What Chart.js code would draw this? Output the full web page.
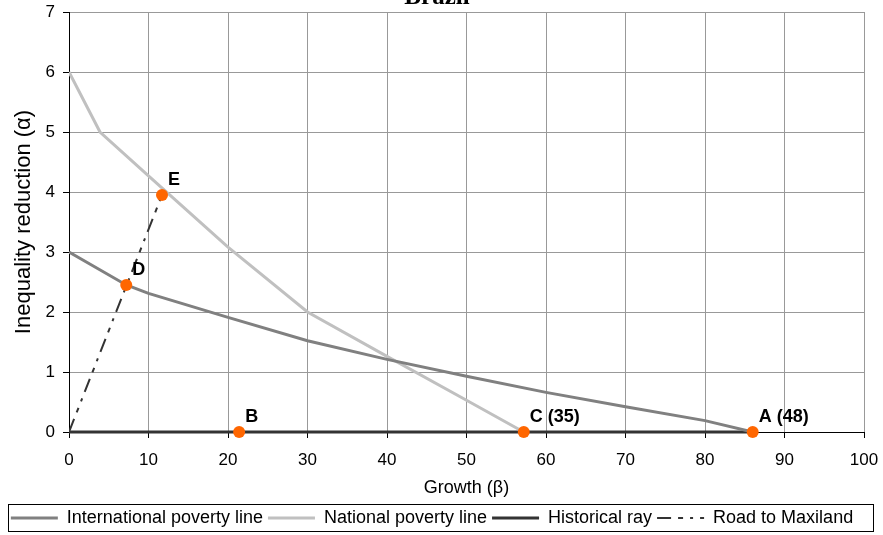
<!DOCTYPE html>
<html>
<head>
<meta charset="utf-8">
<script src="https://cdn.jsdelivr.net/npm/chart.js@4.4.1/dist/chart.umd.min.js"></script>
<style>
  html, body { margin: 0; padding: 0; background: #fff; }
  #wrap { width: 883px; height: 535px; }
</style>
</head>
<body>
<div id="wrap"><canvas id="chart0" width="883" height="535"></canvas></div>
<script>
// growth (beta) / inequality reduction (alpha) curves
const intlX = [0, 7.2, 10, 20, 30, 40, 50, 60, 70, 80, 86];
const intlY = [3, 2.45, 2.31, 1.91, 1.52, 1.21, 0.93, 0.66, 0.42, 0.19, 0];
const natX = [0, 3.9, 10, 20, 30, 40, 50, 57.2];
const natY = [6, 5, 4.27, 3.08, 2.0, 1.26, 0.53, 0];
const histX = [0, 86];
const histY = [0, 0];
const roadX = [0, 11.7];
const roadY = [0, 3.95];
const pointLabels = ['A (48)', 'B', 'C (35)', 'D', 'E'];
const pointX = [86, 21.4, 57.2, 7.2, 11.7];
const pointY = [0, 0, 0, 2.45, 3.95];

const FONT = "'Liberation Sans', Arial, sans-serif";

function xy(xs, ys) {
    return xs.map(function (x, i) { return {x: x, y: ys[i]}; });
}

const extras = {
    id: 'extras',
    afterDatasetsDraw(chart) {
        var ctx = chart.ctx;
        var meta = chart.getDatasetMeta(4);
        ctx.save();
        ctx.fillStyle = '#000';
        ctx.font = 'bold 18px ' + FONT;
        ctx.textAlign = 'left';
        ctx.textBaseline = 'alphabetic';
        meta.data.forEach(function (pt, i) {
            ctx.fillText(pointLabels[i], pt.x + 6, pt.y - 10);
        });
        ctx.restore();
    },
    afterDraw(chart) {
        var ctx = chart.ctx;
        ctx.save();
        // title, mostly cut off at the top edge
        ctx.fillStyle = '#000';
        ctx.font = 'bold 25px "Liberation Serif", "Times New Roman", serif';
        ctx.textAlign = 'center';
        ctx.textBaseline = 'alphabetic';
        ctx.fillText('Brazil', 437, 4);
        // legend frame
        ctx.strokeStyle = '#000';
        ctx.lineWidth = 1;
        ctx.strokeRect(8.5, 504.5, 865, 27);
        ctx.restore();
    }
};

new Chart(document.getElementById('chart0'), {
    type: 'scatter',
    data: {
        datasets: [
            {
                label: 'International poverty line',
                data: xy(intlX, intlY),
                showLine: true,
                borderColor: '#808080',
                backgroundColor: '#808080',
                borderWidth: 3,
                pointRadius: 0,
                order: 1
            }, {
                label: 'National poverty line',
                data: xy(natX, natY),
                showLine: true,
                borderColor: '#c0c0c0',
                backgroundColor: '#c0c0c0',
                borderWidth: 3,
                pointRadius: 0,
                order: 2
            }, {
                label: 'Historical ray',
                data: xy(histX, histY),
                showLine: true,
                borderColor: '#333333',
                backgroundColor: '#333333',
                borderWidth: 3,
                pointRadius: 0,
                clip: false,
                order: 3
            }, {
                label: 'Road to Maxiland',
                data: xy(roadX, roadY),
                showLine: true,
                borderColor: '#333333',
                backgroundColor: '#333333',
                borderWidth: 2,
                borderDash: [14, 7, 5, 7, 3, 7],
                pointRadius: 0,
                order: 4
            }, {
                label: 'points',
                data: xy(pointX, pointY),
                showLine: false,
                backgroundColor: '#ff6600',
                borderColor: '#ff6600',
                borderWidth: 0,
                pointRadius: 6,
                pointHoverRadius: 6,
                clip: false,
                order: 0
            }
        ]
    },
    options: {
        responsive: false,
        animation: false,
        events: [],
        layout: { padding: { left: 0, top: 12, right: 19, bottom: -2 } },
        plugins: {
            tooltip: { enabled: false },
            title: { display: false },
            legend: {
                display: true,
                position: 'bottom',
                labels: {
                    color: '#000',
                    font: { family: FONT, size: 18 },
                    usePointStyle: true,
                    pointStyle: 'line',
                    pointStyleWidth: 47,
                    padding: 5,
                    filter: function (item) { return item.text !== 'points'; },
                    generateLabels: function (chart) {
                        var items = Chart.defaults.plugins.legend.labels.generateLabels(chart);
                        items.forEach(function (item) {
                            var ds = chart.data.datasets[item.datasetIndex];
                            item.lineDash = ds.borderDash || [];
                            item.strokeStyle = ds.borderColor;
                            item.lineWidth = ds.borderWidth;
                        });
                        return items;
                    }
                }
            }
        },
        scales: {
            x: {
                type: 'linear',
                min: 0,
                max: 100,
                afterFit: function (scale) {
                    scale.height = 72;
                    scale.paddingLeft = 0;
                    scale.paddingRight = 0;
                },
                ticks: {
                    stepSize: 10,
                    color: '#000',
                    font: { family: FONT, size: 17 },
                    padding: 12,
                    maxRotation: 0
                },
                grid: { color: '#999999', tickColor: '#000', tickLength: 6, lineWidth: 1 },
                border: { color: '#000', width: 1 },
                title: {
                    display: true,
                    text: 'Growth (\u03b2)',
                    color: '#000',
                    font: { family: FONT, size: 18 },
                    padding: { top: 0, bottom: 5 }
                }
            },
            y: {
                min: 0,
                max: 7,
                afterFit: function (scale) {
                    scale.width = 69;
                    scale.paddingTop = 0;
                    scale.paddingBottom = 0;
                },
                ticks: {
                    stepSize: 1,
                    color: '#000',
                    font: { family: FONT, size: 17 },
                    padding: 8
                },
                grid: { color: '#999999', tickColor: '#000', tickLength: 6, lineWidth: 1 },
                border: { color: '#000', width: 1 },
                title: {
                    display: true,
                    text: 'Inequality reduction (\u03b1)',
                    color: '#000',
                    font: { family: FONT, size: 22 },
                    padding: { top: 11, bottom: 0 }
                }
            }
        }
    },
    plugins: [extras]
});
</script>
</body>
</html>
